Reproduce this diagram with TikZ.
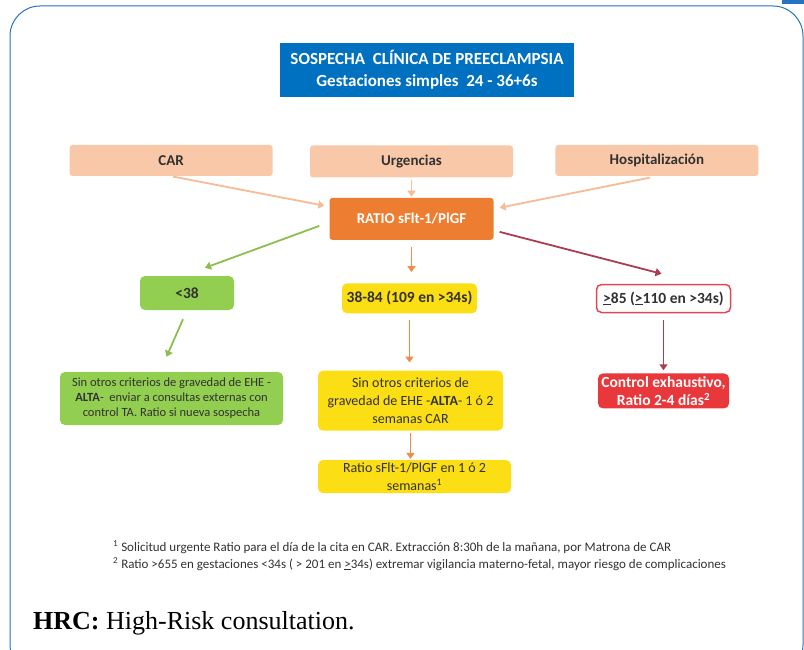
\documentclass[tikz,border=0pt]{standalone}
\usepackage{fontspec}
\setmainfont{Carlito}
\newfontfamily\capfont{Liberation Serif}
\usepackage{xcolor}
\definecolor{framebl}{RGB}{35,115,190}
\definecolor{titlebl}{RGB}{0,112,192}
\definecolor{peach}{RGB}{249,200,168}
\definecolor{peachln}{RGB}{245,188,150}
\definecolor{orng}{RGB}{237,125,49}
\definecolor{orngln}{RGB}{240,140,75}
\definecolor{grn}{RGB}{146,206,80}
\definecolor{grnln}{RGB}{140,190,80}
\definecolor{yel}{RGB}{252,222,20}
\definecolor{redbox}{RGB}{232,56,60}
\definecolor{redframe}{RGB}{222,72,82}
\definecolor{redln}{RGB}{170,62,78}
\definecolor{txt}{RGB}{50,50,50}
\usepackage{tikz}
\usetikzlibrary{arrows.meta,positioning}
\tikzset{
  fc_title/.style={rectangle,fill=titlebl,text=white,
    align=center,font=\fontsize{17}{22}\selectfont\bfseries,
    minimum width=294pt,minimum height=54pt,inner sep=0pt},
  fc_src/.style={rectangle,rounded corners=3pt,fill=peach,
    text=txt,font=\fontsize{15}{18}\selectfont\bfseries,
    minimum width=203pt,minimum height=32pt,inner sep=0pt},
  fc_ratio/.style={rectangle,rounded corners=3pt,fill=orng,
    text=white,font=\fontsize{15}{18}\selectfont\bfseries,
    minimum width=164pt,minimum height=42pt,inner sep=0pt},
  fc_lo/.style={rectangle,rounded corners=5pt,fill=grn,
    text=txt,align=center,inner sep=0pt},
  fc_md/.style={rectangle,rounded corners=5pt,fill=yel,
    text=txt,align=center,inner sep=0pt},
  fc_hi/.style={rectangle,rounded corners=5pt,
    text=txt,align=center,inner sep=0pt},
  big/.style={font=\fontsize{15.5}{18}\selectfont\bfseries},
  small/.style={font=\fontsize{12.5}{15}\selectfont},
  mid/.style={font=\fontsize{14}{18}\selectfont},
  note/.style={anchor=base west,text=txt,inner sep=0pt,
    font=\fontsize{13}{15}\selectfont},
  arr/.style={-{Triangle[length=6pt,width=8pt]},line width=1.8pt},
}

\begin{document}
\begin{tikzpicture}[x=1pt,y=-1pt]
  \useasboundingbox (0,0) rectangle (804,650);
  % --- Frame ---
  \begin{scope}
    \clip (0,0) rectangle (804,650);
    \draw[framebl,line width=1pt,rounded corners=30pt] (10,6) rectangle (803,675);
  \end{scope}
  \fill[framebl] (782,0) rectangle (804,4);

  % --- Title and entry points ---
  \node (tit)  [fc_title] at (427,70)
    {SOSPECHA\ \ CLÍNICA DE PREECLAMPSIA\\Gestaciones simples\ \ 24 - 36+6s};
  \node (urg)  [fc_src] at (411.5,161.5) {Urgencias};
  \node (car)  [fc_src, left=37pt of urg, yshift=1pt, minimum height=31pt] {CAR};
  \node (hosp) [fc_src, right=42pt of urg, yshift=1pt, minimum height=31pt] {Hospitalización};
  \node (rat)  [fc_ratio, below=20pt of urg] {RATIO sFlt-1/PlGF};

  % --- Ratio ranges ---
  \node (lo) [fc_lo, big, minimum width=94pt, minimum height=34pt] at (187,293) {<38};
  \node (md) [fc_md, big, minimum width=135pt, minimum height=30pt, below=43pt of rat, xshift=-2pt]
    {38-84 (109 en >34s)};
  \node (hi) [fc_hi, big, draw=redframe, line width=1.5pt, fill=white,
              minimum width=134pt, minimum height=28pt] at (663.5,298.5)
    {\underline{>}85 (\underline{>}110 en >34s)};

  % --- Actions ---
  \node (lotx) [fc_lo, small, minimum width=223pt, minimum height=53pt] at (171.5,398.5)
    {Sin otros criterios de gravedad de EHE -\\
     \textbf{ALTA}- \ enviar a consultas externas con\\
     control TA. Ratio si nueva sospecha};
  \node (mdtx) [fc_md, mid, minimum width=185pt,
                minimum height=60pt, below=57pt of md, xshift=1pt]
    {Sin otros criterios de\\gravedad de EHE -\textbf{ALTA}- 1 ó 2\\semanas CAR};
  \node (hitx) [fc_hi, fill=redbox, text=white, big, minimum width=131pt,
                minimum height=35pt, below=60pt of hi]
    {Control exhaustivo,\\Ratio 2-4 días\textsuperscript{2}};
  \node (md2)  [fc_md, mid, minimum width=193pt,
                minimum height=33pt, below=29pt of mdtx, xshift=4pt]
    {Ratio sFlt-1/PlGF en 1 ó 2\\semanas\textsuperscript{1}};

  % --- Arrows ---
  \draw[arr,peachln,shorten <=2pt] (car.south) -- ([xshift=-5pt,yshift=-8pt]rat.north west);
  \draw[arr,peachln,shorten <=2pt,shorten >=1pt] (urg.south) -- (rat.north);
  \draw[arr,peachln,shorten <=7pt] (hosp.south) -- ([xshift=6pt,yshift=-10pt]rat.north east);
  \draw[arr,grnln] ([xshift=-10pt,yshift=-7pt]rat.west) -- ([xshift=18pt,yshift=8pt]lo.north);
  \draw[arr,orngln,shorten <=7pt,shorten >=11pt] (rat.south) -- (rat.south |- md.north);
  \draw[arr,redln] ([xshift=6pt,yshift=-13pt]rat.east) -- ([xshift=-2pt,yshift=10pt]hi.north);
  \draw[arr,grnln] ([xshift=-4pt,yshift=-9pt]lo.south) -- ([xshift=-5pt,yshift=15pt]lotx.north);
  \draw[arr,orngln,shorten <=6pt,shorten >=8pt] (md.south) -- (md.south |- mdtx.north);
  \draw[arr,redln,shorten <=7pt,shorten >=3pt] (hi.south) -- (hitx.north);
  \draw[arr,orngln,shorten <=2pt,shorten >=1pt] (mdtx.south) -- (mdtx.south |- md2.north);

  % --- Footnotes and caption ---
  \node (fn1) [note] at (113,551)
    {\textsuperscript{1} Solicitud urgente Ratio para el día de la cita en CAR. Extracción 8:30h de la mañana, por Matrona de CAR};
  \node (fn2) [note] at (113,568)
    {\textsuperscript{2} Ratio >655 en gestaciones <34s ( > 201 en \underline{>}34s) extremar vigilancia materno-fetal, mayor riesgo de complicaciones};
  \node (hrc) [anchor=base west, font=\capfont\fontsize{26}{30}\selectfont, inner sep=0pt] at (33,629)
    {\textbf{HRC:} High-Risk consultation.};
\end{tikzpicture}
\end{document}
